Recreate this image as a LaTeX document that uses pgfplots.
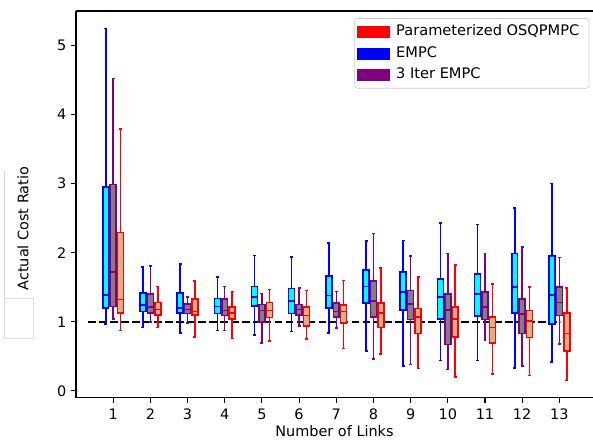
\documentclass[border=0pt]{standalone}
\usepackage{pgfplots}
\pgfplotsset{compat=1.18}
\usepgfplotslibrary{statistics}
\usepackage{fontspec}
\setmainfont{DejaVu Sans}
\definecolor{mblue}{HTML}{0000FF}
\definecolor{mcyan}{HTML}{00FFFF}
\definecolor{mpurple}{HTML}{800080}
\definecolor{mgray}{HTML}{808080}
\definecolor{mred}{HTML}{FF0000}
\definecolor{mtan}{HTML}{D2B48C}
\newcommand{\bx}[8]{\addplot[forget plot, draw=#7, fill=#8, line width=1.1pt, solid,
  boxplot prepared={draw direction=y, draw position=#1, lower whisker=#2, lower quartile=#3, median=#4,
  upper quartile=#5, upper whisker=#6, box extend=0.16, whisker extend=0.08}] coordinates {};}
\newcommand{\E}[6]{\bx{#1}{#2}{#3}{#4}{#5}{#6}{mblue}{mcyan}}
\newcommand{\T}[6]{\bx{#1}{#2}{#3}{#4}{#5}{#6}{mpurple}{mgray}}
\newcommand{\Pa}[6]{\bx{#1}{#2}{#3}{#4}{#5}{#6}{mred}{mtan}}
\begin{document}
\begin{tikzpicture}[x=1pt,y=1pt]
\useasboundingbox (-54.72,-31.18) rectangle (372.24,286.34);
\clip (-54.72,-31.18) rectangle (372.24,286.34);
\draw[gray!35, line width=0.8pt] (-51.3,163.4) -- (-51.3,71.8);
\draw[gray!25, line width=0.6pt] (-51.3,71.8) rectangle (-30.7,43.0);
\node[rotate=90, anchor=base, inner sep=0pt, font=\fontsize{10.4}{12}\selectfont] at (-34.3,121.8) {Actual Cost Ratio};
\begin{axis}[
  at={(0,0)}, anchor=south west,
  scale only axis, width=372.24pt, height=278.4pt,
  xmin=0, xmax=13.905, ymin=-0.1, ymax=5.5,
  axis y line*=left,
  xtick={1,...,13}, ytick={0,...,5},
  tick align=outside, xtick pos=bottom, ytick pos=left,
  major tick length=3.5pt,
  tick style={black, line width=0.8pt},
  axis line style={line width=0.8pt},
  ticklabel style={font=\fontsize{10.4}{12}\selectfont},
  xticklabel style={yshift=-1pt},
  /pgf/number format/assume math mode=true,
  xlabel={Number of Links},
  xlabel style={font=\fontsize{10.4}{12}\selectfont, yshift=3pt},
  legend cell align=left,
  legend style={at={(1,1)}, anchor=north east, xshift=-2.7pt, yshift=-5.2pt,
    draw=gray!40, rounded corners=2pt, font=\fontsize{10.5}{12}\selectfont,
    inner xsep=2pt, inner ysep=4.5pt, row sep=5.6pt,
    nodes={text height=7.7pt, text depth=2.3pt, inner ysep=0pt, inner xsep=5pt}},
]
\addplot[forget plot, black, line width=1.6pt, dash pattern=on 5.5pt off 2.4pt] coordinates {(0.33,1) (13.02,1)};
% EMPC
\E{0.8}{0.97}{1.20}{1.39}{2.95}{5.25}
\E{1.8}{0.92}{1.15}{1.24}{1.42}{1.79}
\E{2.8}{0.84}{1.13}{1.20}{1.42}{1.84}
\E{3.8}{0.87}{1.12}{1.22}{1.34}{1.65}
\E{4.8}{0.81}{1.23}{1.36}{1.51}{1.96}
\E{5.8}{0.86}{1.12}{1.30}{1.48}{1.94}
\E{6.8}{0.84}{1.20}{1.38}{1.66}{2.14}
\E{7.8}{0.58}{1.27}{1.51}{1.75}{2.17}
\E{8.8}{0.36}{1.17}{1.43}{1.72}{2.18}
\E{9.8}{0.44}{1.04}{1.36}{1.62}{2.43}
\E{10.8}{0.44}{1.08}{1.40}{1.69}{2.41}
\E{11.8}{0.33}{1.13}{1.50}{1.99}{2.65}
\E{12.8}{0.42}{0.97}{1.39}{1.95}{3.00}
% 3 Iter EMPC
\T{1}{1.04}{1.22}{1.72}{2.99}{4.52}
\T{2}{1.00}{1.13}{1.21}{1.40}{1.81}
\T{3}{0.98}{1.12}{1.18}{1.26}{1.36}
\T{4}{0.87}{1.09}{1.16}{1.33}{1.51}
\T{5}{0.69}{1.00}{1.16}{1.25}{1.41}
\T{6}{0.94}{1.10}{1.18}{1.25}{1.49}
\T{7}{0.91}{1.07}{1.15}{1.27}{1.44}
\T{8}{0.46}{1.07}{1.30}{1.59}{2.28}
\T{9}{0.38}{1.03}{1.26}{1.45}{1.95}
\T{10}{0.31}{0.67}{1.17}{1.40}{1.99}
\T{11}{0.73}{1.03}{1.21}{1.43}{1.99}
\T{12}{0.36}{0.83}{1.11}{1.33}{2.08}
\T{13}{0.68}{1.09}{1.28}{1.50}{1.93}
% Parameterized OSQPMPC
\Pa{1.2}{0.87}{1.13}{1.32}{2.29}{3.79}
\Pa{2.2}{0.92}{1.10}{1.18}{1.28}{1.51}
\Pa{3.2}{0.78}{1.10}{1.15}{1.33}{1.59}
\Pa{4.2}{0.76}{1.04}{1.13}{1.21}{1.44}
\Pa{5.2}{0.72}{1.06}{1.16}{1.28}{1.47}
\Pa{6.2}{0.75}{0.94}{1.09}{1.21}{1.45}
\Pa{7.2}{0.61}{0.98}{1.15}{1.24}{1.60}
\Pa{8.2}{0.53}{0.92}{1.13}{1.27}{1.78}
\Pa{9.2}{0.32}{0.83}{1.07}{1.19}{1.65}
\Pa{10.2}{0.20}{0.78}{1.04}{1.21}{1.82}
\Pa{11.2}{0.24}{0.69}{0.92}{1.07}{1.55}
\Pa{12.2}{0.22}{0.77}{1.01}{1.16}{1.50}
\Pa{13.2}{0.15}{0.58}{0.83}{1.13}{1.49}
\addlegendimage{legend image code/.code={\fill[mred, sharp corners] (0pt,-4pt) rectangle (22.5pt,4pt);}}
\addlegendentry{Parameterized OSQPMPC}
\addlegendimage{legend image code/.code={\fill[mblue, sharp corners] (0pt,-4pt) rectangle (22.5pt,4pt);}}
\addlegendentry{EMPC}
\addlegendimage{legend image code/.code={\fill[mpurple, sharp corners] (0pt,-4pt) rectangle (22.5pt,4pt);}}
\addlegendentry{3 Iter EMPC}
\end{axis}
\end{tikzpicture}
\end{document}
